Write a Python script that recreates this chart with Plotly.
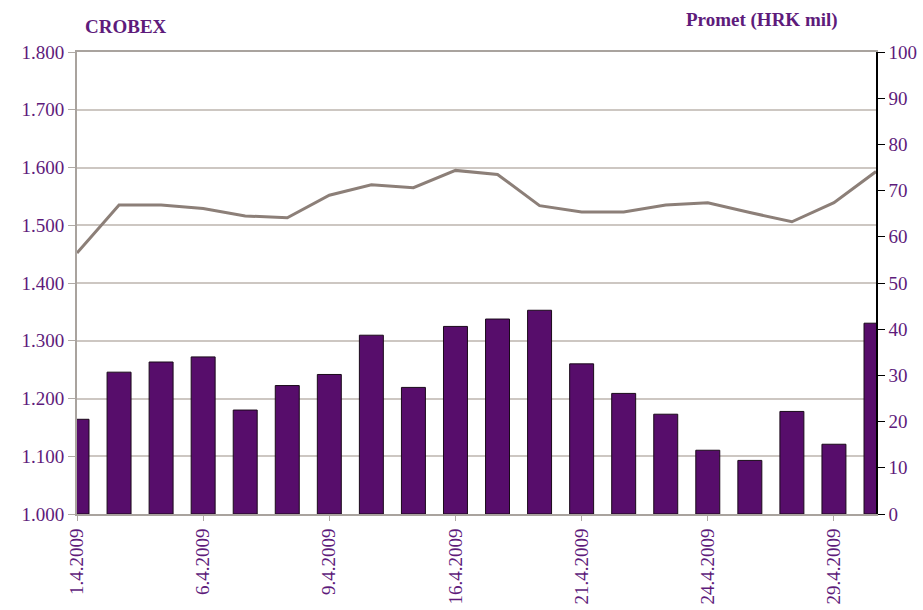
import plotly.graph_objects as go

dates = ["1.4.2009", "2.4.2009", "3.4.2009", "6.4.2009", "7.4.2009", "8.4.2009",
         "9.4.2009", "14.4.2009", "15.4.2009", "16.4.2009", "17.4.2009", "20.4.2009",
         "21.4.2009", "22.4.2009", "23.4.2009", "24.4.2009", "27.4.2009", "28.4.2009",
         "29.4.2009", "30.4.2009"]
crobex = [1452, 1535, 1535, 1529, 1516, 1513, 1552, 1570, 1565, 1595,
          1588, 1534, 1523, 1523, 1535, 1539, 1522, 1506, 1539, 1593]
promet = [20.5, 30.7, 32.9, 34.0, 22.5, 27.8, 30.2, 38.7, 27.4, 40.6,
          42.2, 44.1, 32.5, 26.1, 21.6, 13.8, 11.6, 22.2, 15.1, 41.3]
tick_dates = ["1.4.2009", "6.4.2009", "9.4.2009", "16.4.2009", "21.4.2009",
              "24.4.2009", "29.4.2009"]
left_ticks = [1000, 1100, 1200, 1300, 1400, 1500, 1600, 1700, 1800]
left_labels = ["1.000", "1.100", "1.200", "1.300", "1.400", "1.500", "1.600", "1.700", "1.800"]

PURPLE_TXT = "#5E1B7B"
BAR = "#570D6B"
LINE = "#8C7F78"
FONT = "Liberation Serif"

fig = go.Figure()
fig.add_trace(go.Bar(x=dates, y=promet, yaxis="y", marker=dict(color=BAR, line=dict(color="#1a0a1a", width=1)),
                     name="Promet"))
fig.add_trace(go.Scatter(x=dates, y=crobex, yaxis="y2", mode="lines",
                         line=dict(color=LINE, width=3), name="CROBEX"))

fig.update_layout(
    width=923, height=610,
    margin=dict(l=77, r=47, t=52, b=96),
    plot_bgcolor="white", paper_bgcolor="white",
    showlegend=False, bargap=0.43,
    font=dict(family=FONT, size=19, color=PURPLE_TXT),
    xaxis=dict(type="category", range=[0, 19], tickmode="array", tickvals=tick_dates,
               ticktext=tick_dates, tickangle=-90, ticks="outside", ticklen=5,
               tickcolor="#b0aaa5", showline=True, linecolor="#a9a39e", linewidth=2,
               mirror=True, showgrid=False, automargin=False,
               tickfont=dict(size=19, color=PURPLE_TXT)),
    yaxis=dict(side="right", range=[0, 100], dtick=10, showgrid=False, showline=True,
               linecolor="black", linewidth=1.5, ticks="outside", ticklen=7, tickcolor="black",
               automargin=False, tickfont=dict(size=19, color=PURPLE_TXT), zeroline=False),
    yaxis2=dict(side="left", overlaying="y", range=[1000, 1800], tickmode="array",
                tickvals=left_ticks, ticktext=left_labels, showgrid=True, gridcolor="#cdc7c2",
                gridwidth=1.5, showline=True, linecolor="#a9a39e", linewidth=2,
                ticks="outside", ticklen=7, tickcolor="#b0aaa5", zeroline=False,
                automargin=False, tickfont=dict(size=19, color=PURPLE_TXT)),
    yaxis3=dict(side="right", overlaying="y", range=[0, 100], dtick=10, showgrid=False,
                showline=False, ticks="inside", ticklen=7, tickcolor="black",
                automargin=False, showticklabels=False, zeroline=False),
)

fig.add_annotation(text="<b>CROBEX</b>", xref="paper", yref="paper", x=0.007, y=1.055,
                   xanchor="left", yanchor="middle", showarrow=False,
                   font=dict(family=FONT, size=19, color=PURPLE_TXT))
fig.add_annotation(text="<b>Promet (HRK mil)</b>", xref="paper", yref="paper", x=0.955, y=1.07,
                   xanchor="right", yanchor="middle", showarrow=False,
                   font=dict(family=FONT, size=19, color=PURPLE_TXT))

fig.write_html("out.html", config={"displayModeBar": False},
               post_script="document.body.style.margin='0';document.body.style.overflow='hidden';")
